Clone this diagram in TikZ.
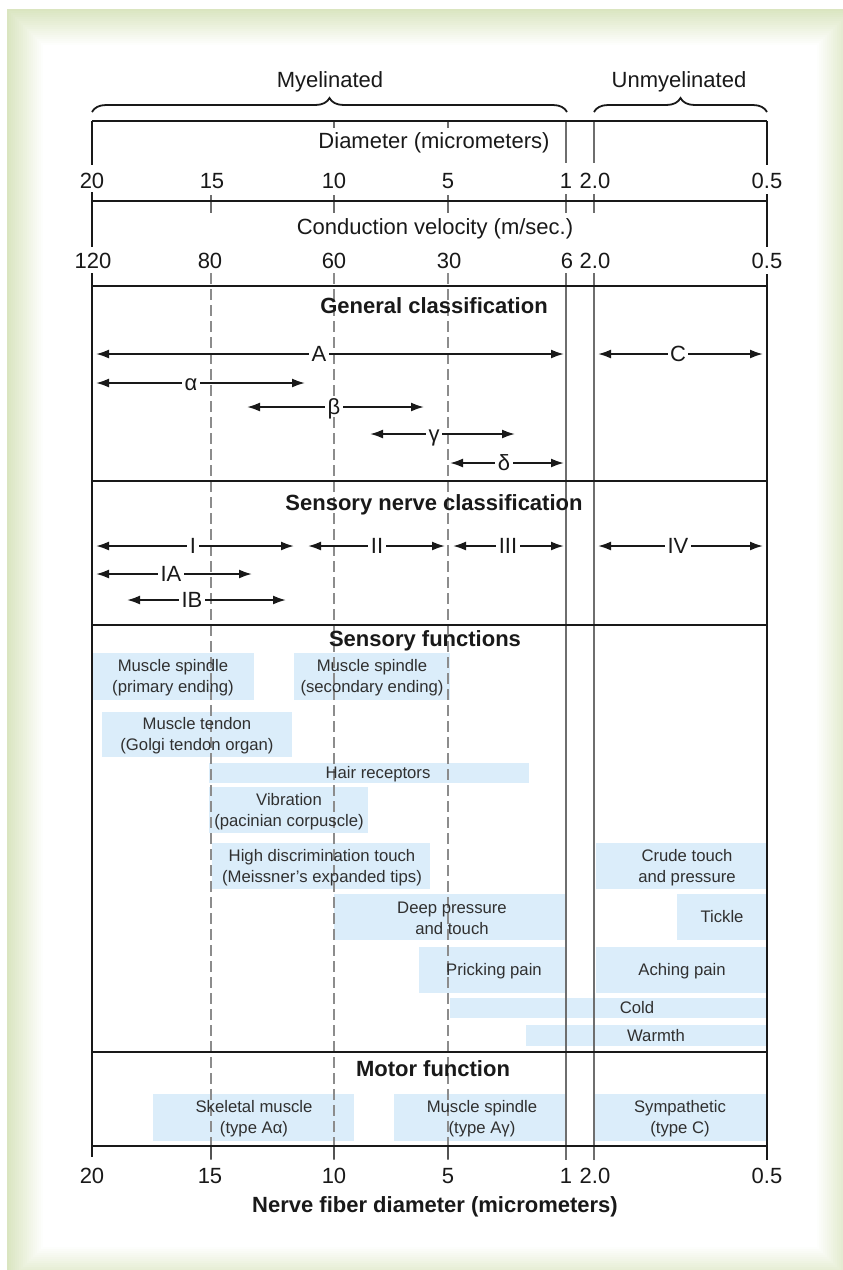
\documentclass[tikz,border=0pt]{standalone}
\usepackage{fontspec}
\setmainfont{Liberation Sans}
\usetikzlibrary{arrows.meta,decorations.pathreplacing}
\definecolor{framegreen}{RGB}{218,229,192}
\definecolor{boxblue}{RGB}{219,237,250}
\definecolor{guidegray}{RGB}{140,140,140}
\definecolor{solidgray}{RGB}{110,110,110}
\definecolor{ink}{RGB}{25,25,25}
\begin{document}
\begin{tikzpicture}[x=1pt,y=-1pt,
  heavy/.style={line width=2pt, ink},
  border/.style={line width=1.8pt, ink},
  guide/.style={line width=1.2pt, guidegray, dash pattern=on 11pt off 5pt},
  solidguide/.style={line width=1.2pt, solidgray},
  rng/.style={line width=1.9pt, ink, {Latex[length=13pt,width=9pt]}-{Latex[length=13pt,width=9pt]}},
  rlabel/.style={fill=white, inner sep=2.5pt, text height=15pt, text depth=0pt, text=ink, font=\fontsize{22}{26}\selectfont},
  txt/.style={font=\fontsize{22}{26}\selectfont, anchor=base, inner sep=0pt, text=ink},
  ttl/.style={font=\fontsize{22}{26}\selectfont\bfseries, anchor=base, inner sep=0pt, text=ink},
  fnbox/.style={fill=boxblue},
  ftext/.style={font=\fontsize{16.7}{21}\selectfont, align=center, inner sep=0pt, text=ink!90},
  bracestyle/.style={line width=1.8pt, ink, decorate, decoration={brace, amplitude=14pt}},
]
\useasboundingbox (0,0) rectangle (843,1270);
\clip (0,0) rectangle (843,1270);
% ---- frame ----
\fill[white] (0,0) rectangle (843,1270);
\foreach \i in {0,...,18}{
  \pgfmathtruncatemacro\p{100-\i*100/18}
  \fill[framegreen!\p!white] ({7+2*\i},{9+2*\i}) rectangle ({853-2*\i},{1283-2*\i});
}
% ---- function boxes ----
\fill[fnbox] (92,653) rectangle (254,700);
\fill[fnbox] (294,653) rectangle (450,700);
\fill[fnbox] (102,712) rectangle (292,757);
\fill[fnbox] (209,763) rectangle (529,783);
\fill[fnbox] (209,787) rectangle (368,833);
\fill[fnbox] (212,843) rectangle (430,889);
\fill[fnbox] (596,843) rectangle (766,889);
\fill[fnbox] (334,894) rectangle (566,940);
\fill[fnbox] (677,894) rectangle (766,940);
\fill[fnbox] (419,947) rectangle (566,993);
\fill[fnbox] (596,947) rectangle (766,993);
\fill[fnbox] (450,998) rectangle (766,1018);
\fill[fnbox] (526,1025) rectangle (766,1046);
\fill[fnbox] (153,1094) rectangle (354,1141);
\fill[fnbox] (394,1094) rectangle (566,1141);
\fill[fnbox] (594,1094) rectangle (767,1141);
% ---- guide lines ----
\foreach \x in {211,334,448}{
  \draw[guide] (\x,273) -- (\x,1160);
  \draw[solidguide] (\x,195) -- (\x,213);
  \draw[line width=1.3pt, ink!75] (\x,1146) -- (\x,1159);
}
\foreach \x in {334,448}{ \draw[solidguide] (\x,121) -- (\x,128); }
\foreach \x in {566,594}{
  \draw[solidguide] (\x,121) -- (\x,163);
  \draw[solidguide] (\x,194) -- (\x,213);
  \draw[solidguide] (\x,273) -- (\x,1160);
}
% ---- frame lines ----
\foreach \y in {121,201,286,481,625,1052,1146}{ \draw[heavy] (92,\y) -- (767,\y); }
\draw[border] (92,121) -- (92,165);
\draw[border] (92,192) -- (92,247);
\draw[border] (92,273) -- (92,1157);
\draw[border] (767,121) -- (767,165);
\draw[border] (767,194) -- (767,247);
\draw[border] (767,274) -- (767,1160);
% ---- braces ----
\coordinate (myL) at (92,112); \coordinate (myR) at (567,112);
\coordinate (umL) at (594,112); \coordinate (umR) at (767,112);
\draw[bracestyle] (myL) -- (myR);
\draw[bracestyle] (umL) -- (umR);
\node[txt] (myel) at (330,87) {Myelinated};
\node[txt] (unmyel) at (679,87) {Unmyelinated};
% ---- scales ----
\node[txt] (diamT) at (434,148) {Diameter (micrometers)};
\node[txt] (d20) at (92,188) {20};
\node[txt] (d15) at (212,188) {15};
\node[txt] (d10) at (334,188) {10};
\node[txt] (d5) at (448,188) {5};
\node[txt] (d1) at (566,188) {1};
\node[txt] (d2) at (595,188) {2.0};
\node[txt] (d05) at (767,188) {0.5};
\node[txt] (velT) at (435,234) {Conduction velocity (m/sec.)};
\node[txt] (v120) at (93,268) {120};
\node[txt] (v80) at (210,268) {80};
\node[txt] (v60) at (334,268) {60};
\node[txt] (v30) at (449,268) {30};
\node[txt] (v6) at (567,268) {6};
\node[txt] (v2) at (595,268) {2.0};
\node[txt] (v05) at (767,268) {0.5};
% ---- general classification ----
\node[ttl] (genT) at (434,313) {General classification};
\coordinate (Aa) at (96,354); \coordinate (Ab) at (564,354);
\draw[rng] (Aa) -- (Ab); \node[rlabel] (Al) at (319,354) {A};
\coordinate (Ca) at (598,354); \coordinate (Cb) at (763,354);
\draw[rng] (Ca) -- (Cb); \node[rlabel] (Cl) at (678,354) {C};
\coordinate (ala) at (96,383); \coordinate (alb) at (305,383);
\draw[rng] (ala) -- (alb); \node[rlabel] (all) at (191,383) {α};
\coordinate (bea) at (247,407); \coordinate (beb) at (424,407);
\draw[rng] (bea) -- (beb); \node[rlabel] (bel) at (334,407) {β};
\coordinate (gaa) at (370,434); \coordinate (gab) at (515,434);
\draw[rng] (gaa) -- (gab); \node[rlabel] (gal) at (434,434) {γ};
\coordinate (dea) at (450,463); \coordinate (deb) at (564,463);
\draw[rng] (dea) -- (deb); \node[rlabel] (del) at (504,463) {δ};
% ---- sensory nerve classification ----
\node[ttl] (senT) at (434,510) {Sensory nerve classification};
\coordinate (Ia) at (96,546); \coordinate (Ib) at (294,546);
\draw[rng] (Ia) -- (Ib); \node[rlabel] (Il) at (193,546) {I};
\coordinate (IIa) at (308,546); \coordinate (IIb) at (445,546);
\draw[rng] (IIa) -- (IIb); \node[rlabel] (IIl) at (377,546) {II};
\coordinate (IIIa) at (453,546); \coordinate (IIIb) at (564,546);
\draw[rng] (IIIa) -- (IIIb); \node[rlabel] (IIIl) at (508,546) {III};
\coordinate (IVa) at (598,546); \coordinate (IVb) at (763,546);
\draw[rng] (IVa) -- (IVb); \node[rlabel] (IVl) at (678,546) {IV};
\coordinate (IAa) at (96,574); \coordinate (IAb) at (252,574);
\draw[rng] (IAa) -- (IAb); \node[rlabel] (IAl) at (171,574) {IA};
\coordinate (IBa) at (127,600); \coordinate (IBb) at (286,600);
\draw[rng] (IBa) -- (IBb); \node[rlabel] (IBl) at (192,600) {IB};
% ---- sensory functions ----
\node[ttl] (sfT) at (425,646) {Sensory functions};
\node[ftext] (f1) at (173,678) {Muscle spindle\\(primary ending)};
\node[ftext] (f2) at (372,678) {Muscle spindle\\(secondary ending)};
\node[ftext] (f3) at (197,736) {Muscle tendon\\(Golgi tendon organ)};
\node[ftext] (f4) at (378,774.5) {Hair receptors};
\node[ftext] (f5) at (289,811.5) {Vibration\\(pacinian corpuscle)};
\node[ftext] (f6) at (322,867.5) {High discrimination touch\\(Meissner's expanded tips)};
\node[ftext] (f7) at (687,867.5) {Crude touch\\and pressure};
\node[ftext] (f8) at (452,918.5) {Deep pressure\\and touch};
\node[ftext] (f9) at (722,917) {Tickle};
\node[ftext] (f10) at (494,971.5) {Pricking pain};
\node[ftext] (f11) at (682,971.5) {Aching pain};
\node[ftext] (f12) at (637,1008) {Cold};
\node[ftext] (f13) at (656,1035.5) {Warmth};
% ---- motor function ----
\node[ttl] (mfT) at (433,1076) {Motor function};
\node[ftext] (m1) at (254,1119) {Skeletal muscle\\(type Aα)};
\node[ftext] (m2) at (482,1119) {Muscle spindle\\(type Aγ)};
\node[ftext] (m3) at (680,1119) {Sympathetic\\(type C)};
% ---- bottom scale ----
\node[txt] (b20) at (92,1183) {20};
\node[txt] (b15) at (210,1183) {15};
\node[txt] (b10) at (334,1183) {10};
\node[txt] (b5) at (448,1183) {5};
\node[txt] (b1) at (566,1183) {1};
\node[txt] (b2) at (595,1183) {2.0};
\node[txt] (b05) at (767,1183) {0.5};
\node[ttl] (nfT) at (435,1212) {Nerve fiber diameter (micrometers)};
\end{tikzpicture}
\end{document}
